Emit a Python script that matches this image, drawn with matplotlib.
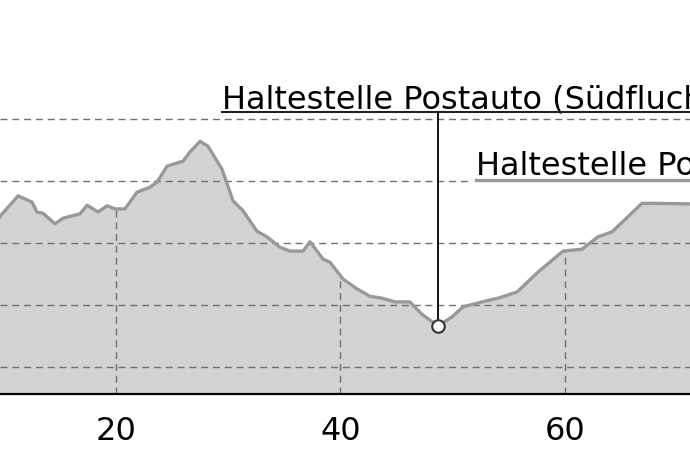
import numpy as np
import matplotlib.pyplot as plt

# distance (km) and elevation (m)
dist = [9.5, 9.66, 11.27, 12.51, 12.96, 13.49, 14.56, 15.28, 16.79, 17.42, 18.40,
        19.20, 19.91, 20.80, 21.87, 23.03, 23.65, 24.55, 25.97, 26.60, 27.49,
        28.20, 29.45, 30.43, 31.32, 32.57, 33.46, 34.62, 35.51, 36.67, 37.29,
        38.45, 39.07, 40.23, 41.48, 42.64, 43.71, 44.87, 46.20, 47.27, 48.70,
        49.95, 50.93, 52.62, 54.05, 55.74, 57.61, 59.84, 61.53, 62.96, 64.21,
        66.88, 67.77, 71.5]
elev = [738, 743, 776, 766, 750, 748, 731, 740, 747, 761, 750,
        760, 755, 755, 782, 790, 798, 824, 832, 847, 864,
        856, 819, 768, 752, 719, 710, 693, 687, 687, 702,
        674, 669, 642, 626, 614, 611, 605, 605, 585, 566,
        581, 597, 605, 611, 621, 653, 687, 690, 710, 718,
        764, 764, 763]

xticks = [20, 40, 60]
yticks = [500, 600, 700, 800, 900]

stop_x = 48.70
stop_name = "Haltestelle Postauto (Südfluch)"
stop2_name = "Haltestelle Postauto"

fig = plt.figure(figsize=(6.9, 4.6), dpi=100)
ax = fig.add_axes([0, 65 / 460, 1, 395 / 460])
ax.set_xlim(9.66, 71.16)
ax.set_ylim(456.5, 1093.5)

ymin = ax.get_ylim()[0]
ax.fill_between(dist, elev, ymin, color='#d3d3d3', lw=0, zorder=1)
ax.plot(dist, elev, color='#999999', lw=2.4, zorder=3, solid_joinstyle='round')

# grid
ax.set_yticks(yticks)
ax.yaxis.grid(True, color='#707070', linestyle=(0, (5, 3.5)), lw=1.0, zorder=2)
tick_tops = np.interp(xticks, dist, elev)
ax.vlines(xticks, ymin, tick_tops, color='#707070', linestyle=(0, (5, 3.5)), lw=1.0, zorder=2)

ax.set_xticks(xticks)
ax.tick_params(axis='x', length=0, pad=15, labelsize=23)
ax.tick_params(axis='y', length=0, labelleft=False)
for s in ['top', 'left', 'right']:
    ax.spines[s].set_visible(False)
ax.spines['bottom'].set_linewidth(1.6)
ax.spines['bottom'].set_color('black')
ax.spines['bottom'].set_zorder(5)

# stop annotations
stop_y = np.interp(stop_x, dist, elev)
ax.text(29.45, 919, stop_name, fontsize=23, va='baseline', ha='left', zorder=6,
        bbox=dict(facecolor='white', alpha=0.6, edgecolor='none', pad=2))
ax.plot([29.45, 80], [911, 911], color='#222222', lw=1.5, zorder=6)
ax.vlines(stop_x, stop_y, 911, color='black', lw=1.3, zorder=6)
ax.plot(stop_x, stop_y, 'o', ms=9, mfc='white', mec='#333333', mew=1.5, zorder=7)

ax.text(52.09, 811, stop2_name, fontsize=23, va='baseline', ha='left', zorder=6,
        bbox=dict(facecolor='white', edgecolor='none', pad=2))
ax.plot([52.09, 80], [801, 801], color='#999999', lw=2.4, zorder=6)

fig.savefig('out.png', dpi=100)
